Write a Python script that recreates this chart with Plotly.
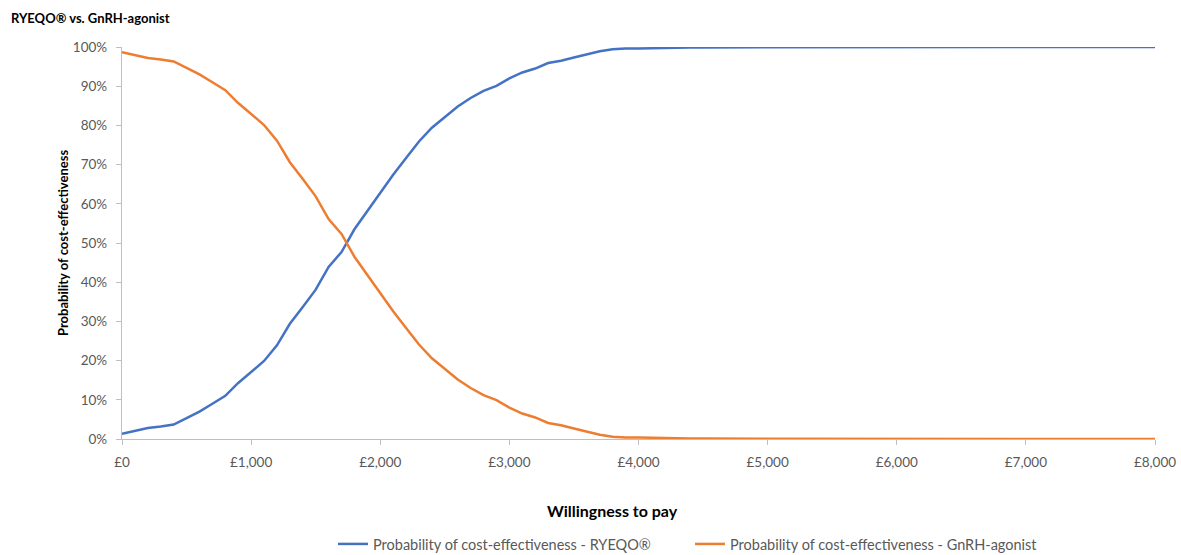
import plotly.graph_objects as go

# Willingness-to-pay grid (GBP) and probability of cost-effectiveness per strategy
wtp = list(range(0, 8100, 100))

prob_ryeqo = [
    0.013, 0.021, 0.028, 0.032, 0.037, 0.053, 0.070, 0.090, 0.110, 0.143,
    0.170, 0.199, 0.239, 0.294, 0.337, 0.381, 0.439, 0.477, 0.535, 0.582,
    0.627, 0.674, 0.717, 0.759, 0.794, 0.822, 0.848, 0.870, 0.888, 0.901,
    0.920, 0.935, 0.945, 0.959, 0.965, 0.973, 0.982, 0.989, 0.994, 0.996,
    0.996, 0.997, 0.998, 0.998, 0.999, 0.999, 0.999, 0.999, 0.999, 1.000,
    1.000, 1.000, 1.000, 1.000, 1.000, 1.000, 1.000, 1.000, 1.000, 1.000,
    1.000, 1.000, 1.000, 1.000, 1.000, 1.000, 1.000, 1.000, 1.000, 1.000,
    1.000, 1.000, 1.000, 1.000, 1.000, 1.000, 1.000, 1.000, 1.000, 1.000,
    1.000,
]

prob_gnrh = [
    0.987, 0.979, 0.972, 0.968, 0.963, 0.947, 0.930, 0.910, 0.890, 0.857,
    0.830, 0.801, 0.761, 0.706, 0.663, 0.619, 0.561, 0.523, 0.465, 0.418,
    0.373, 0.326, 0.283, 0.241, 0.206, 0.178, 0.152, 0.130, 0.112, 0.099,
    0.080, 0.065, 0.055, 0.041, 0.035, 0.027, 0.018, 0.011, 0.006, 0.004,
    0.004, 0.003, 0.002, 0.002, 0.001, 0.001, 0.001, 0.001, 0.001, 0.000,
    0.000, 0.000, 0.000, 0.000, 0.000, 0.000, 0.000, 0.000, 0.000, 0.000,
    0.000, 0.000, 0.000, 0.000, 0.000, 0.000, 0.000, 0.000, 0.000, 0.000,
    0.000, 0.000, 0.000, 0.000, 0.000, 0.000, 0.000, 0.000, 0.000, 0.000,
    0.000,
]

series_names = [
    "Probability of cost-effectiveness - RYEQO®",
    "Probability of cost-effectiveness - GnRH-agonist",
]
series_colors = ["#4472C4", "#ED7D31"]

FONT = "Lato"
W, H = 1181, 555
ML, MR, MT, MB = 122, 26, 47, 116
PW, PH = W - ML - MR, H - MT - MB


def px_x(p):
    return (p - ML) / PW


def px_y(p):
    return (H - MB - p) / PH


fig = go.Figure()
for name, ys, col in zip(series_names, [prob_ryeqo, prob_gnrh], series_colors):
    fig.add_trace(go.Scatter(
        x=wtp, y=ys, mode="lines", name=name,
        line=dict(color=col, width=2.5),
    ))

axis_gray = "#BFBFBF"
fig.update_layout(
    width=W, height=H, autosize=False,
    margin=dict(l=ML, r=MR, t=MT, b=MB, autoexpand=False),
    paper_bgcolor="white", plot_bgcolor="white",
    font=dict(family=FONT, color="#595959", size=13),
    showlegend=True,
    legend=dict(
        orientation="h",
        xref="container", x=333 / W, xanchor="left",
        yref="container", y=1 - 544 / H, yanchor="middle",
        font=dict(family=FONT, size=14.5, color="#595959"),
        entrywidth=312, entrywidthmode="pixels",
        bgcolor="rgba(0,0,0,0)",
    ),
    xaxis=dict(
        range=[0, 8000], dtick=1000, tick0=0,
        tickprefix="£", tickformat=",d",
        showgrid=False, zeroline=False,
        showline=True, linecolor=axis_gray, linewidth=1.3,
        ticks="outside", ticklen=5, tickcolor=axis_gray,
        tickfont=dict(family=FONT, size=13.5, color="#595959"),
        ticklabelstandoff=6, automargin=False,
    ),
    yaxis=dict(
        range=[0, 1], dtick=0.1, tick0=0, tickformat=".0%",
        showgrid=False, zeroline=False,
        showline=True, linecolor=axis_gray, linewidth=1.3,
        ticks="outside", ticklen=5, tickcolor=axis_gray,
        tickfont=dict(family=FONT, size=13.5, color="#595959"),
        ticklabelstandoff=6, automargin=False,
    ),
    annotations=[
        dict(text="<b>RYEQO® vs. GnRH-agonist</b>", xref="paper", yref="paper",
             x=px_x(9), y=px_y(18), xanchor="left", yanchor="middle",
             showarrow=False, font=dict(family=FONT, size=13, color="#000000")),
        dict(text="<b>Probability of cost-effectiveness</b>", xref="paper", yref="paper",
             x=px_x(63), y=px_y(243), xanchor="center", yanchor="middle",
             textangle=-90, showarrow=False,
             font=dict(family=FONT, size=13, color="#000000")),
        dict(text="<b>Willingness to pay</b>", xref="paper", yref="paper",
             x=px_x(612), y=px_y(510), xanchor="center", yanchor="middle",
             showarrow=False, font=dict(family=FONT, size=16, color="#000000")),
    ],
)

fig.write_html("out.html")
